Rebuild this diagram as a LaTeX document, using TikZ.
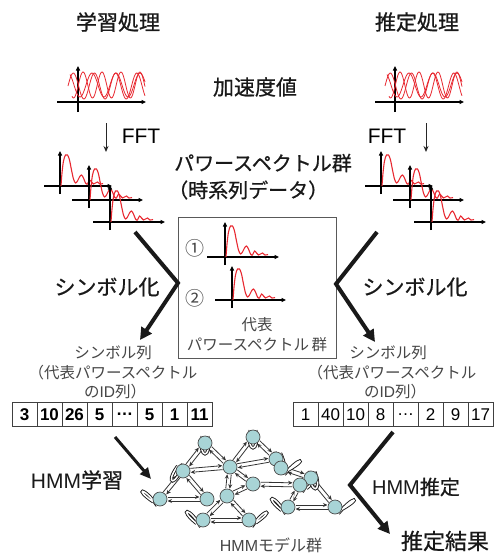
\documentclass[tikz,border=0pt]{standalone}
\usepackage{fontspec}
\setmainfont{Noto Sans CJK JP}
\newfontfamily\cjkheavy[FakeBold=0.7]{Noto Sans CJK JP}
\newfontfamily\lat{Liberation Sans}
\usetikzlibrary{arrows.meta,calc}
\pgfdeclarelayer{bg}
\pgfdeclarelayer{edges}
\pgfsetlayers{bg,edges,main}
\definecolor{wavered}{RGB}{232,40,48}
\definecolor{nodefill}{RGB}{168,212,214}
\definecolor{txtgray}{RGB}{70,70,70}
\newcommand\fs[1]{\fontsize{#1}{#1}\selectfont}
\newcommand\hmmedge[2]{%
  \draw[darr] ($(#1)!2pt!90:(#2)$) -- ($(#2)!2pt!-90:(#1)$);
  \draw[darr] ($(#2)!2pt!90:(#1)$) -- ($(#1)!2pt!-90:(#2)$);}
\newcommand\hmmloop[2]{%
  \pgfmathsetmacro\hlA{#2-22}\pgfmathsetmacro\hlB{#2+22}%
  \pgfmathsetmacro\hlC{#2-11}\pgfmathsetmacro\hlD{#2+11}%
  \draw[loopst] (#1.\hlA) .. controls +(\hlC:24) and +(\hlD:24) .. (#1.\hlB);}
\tikzset{
  axis/.style={black, line width=1.1pt, -{Triangle[length=4.5pt,width=4pt]}},
  wave/.style={wavered, line width=0.8pt},
  spec/.pic={\draw[wavered, line width=1.1pt] plot[smooth, tension=0.55] coordinates {(0,0) (1,-13) (2.5,-25) (4.5,-31) (6.5,-31) (8.5,-26) (10.5,-16) (12.5,-7) (14.5,-3) (16.5,-5) (18.5,-9) (20.5,-11) (22.5,-8) (24.5,-3) (26.5,-2) (28.5,-6) (30.5,-4) (32.5,-2) (34.5,-3) (36.5,-4) (39,-2) (42,-2.5)};},
  bigarrow/.style={black!90, line width=4pt, line join=miter, -{Triangle[length=12pt,width=12pt]}},
  fftarrow/.style={black!85, line width=1pt, -{Stealth[length=6pt,width=5pt]}},
  cell/.style={draw=black!75, line width=0.8pt, minimum width=25pt, minimum height=24pt, inner sep=0pt, font=\lat\fs{17}},
  hmm/.style={circle, minimum size=14pt, inner sep=0pt, fill=nodefill, draw=black!70, line width=0.7pt},
  darr/.style={draw=black!80, line width=0.8pt, -{Stealth[length=4.5pt,width=4pt]}, shorten <=7.5pt, shorten >=7.5pt},
  loopst/.style={draw=black!90, line width=0.9pt, double=white, double distance=1.5pt},
  big/.style={font=\cjkheavy\fs{21}, text=black!90, inner sep=0pt},
  small/.style={font=\fs{15.5}, text=txtgray, inner sep=0pt}
}
\begin{document}
\begin{tikzpicture}[x=1pt,y=-1pt]
\useasboundingbox (0,0) rectangle (496,554);
\begin{pgfonlayer}{bg}
\fill[white] (0,0) rectangle (496,554);
\end{pgfonlayer}

% titles
\node[big] (tl) at (118,22) {学習処理};
\node[big] (tr) at (417,22) {推定処理};
\node[big] (acc) at (255,87) {加速度値};

% acceleration charts
\draw[axis] (78,112) -- (78,66);
\draw[axis] (57,102) -- (146,102);
\draw[wave] plot[domain=68:145, samples=90, smooth] (\x, {86-13*sin(17*(\x-68))});
\draw[wave] plot[domain=70:145, samples=90, smooth] (\x, {85-12*sin(15*(\x-70)+120)});
\draw[wave] plot[domain=72:145, samples=90, smooth] (\x, {85-13*sin(19*(\x-72)+240)});
\draw[axis] (395,112) -- (395,66);
\draw[axis] (375,102) -- (464,102);
\draw[wave] plot[domain=385:462, samples=90, smooth] (\x, {86-13*sin(17*(\x-385))});
\draw[wave] plot[domain=387:462, samples=90, smooth] (\x, {85-12*sin(15*(\x-387)+120)});
\draw[wave] plot[domain=389:462, samples=90, smooth] (\x, {85-13*sin(19*(\x-389)+240)});

% FFT arrows
\coordinate (fl1) at (106,123); \coordinate (fl2) at (106,152);
\draw[fftarrow] (fl1) -- (fl2);
\node[font=\lat\fs{21}, inner sep=0pt] (fftl) at (141,136) {FFT};
\coordinate (fr1) at (426,123); \coordinate (fr2) at (426,152);
\draw[fftarrow] (fr1) -- (fr2);
\node[font=\lat\fs{21}, inner sep=0pt] (fftr) at (387,136) {FFT};

% power spectrum label
\node[big, font=\cjkheavy\fs{20}, anchor=west] (ps1) at (174,163) {パワースペクトル群};
\node[big, font=\cjkheavy\fs{20}, anchor=west] (ps2) at (168,190) {（時系列データ）};

% left stacked spectra
\draw[axis] (60,194) -- (60,151);
\draw[axis] (44,186) -- (112,186);
\pic at (61,186) {spec};
\draw[axis] (89,208) -- (89,165);
\draw[axis] (72,200) -- (143,200);
\pic at (90,200) {spec};
\draw[axis] (110,230) -- (110,185);
\draw[axis] (93,222) -- (165,222);
\pic at (111,222) {spec};
% right stacked spectra
\draw[axis] (381,194) -- (381,151);
\draw[axis] (365,186) -- (433,186);
\pic at (382,186) {spec};
\draw[axis] (410,208) -- (410,165);
\draw[axis] (393,200) -- (464,200);
\pic at (411,200) {spec};
\draw[axis] (431,230) -- (431,185);
\draw[axis] (414,222) -- (486,222);
\pic at (432,222) {spec};

% center box
\node[draw=black!65, line width=0.8pt, minimum width=158pt, minimum height=141pt, inner sep=0pt] (box) at (257,287.5) {};
\node[small, font=\fs{19}] (c1) at (195,248) {①};
\draw[axis] (225,265) -- (225,222);
\draw[axis] (207,257) -- (279,257);
\pic at (226,257) {spec};
\node[small, font=\fs{19}] (c2) at (195,298) {②};
\draw[axis] (232,308) -- (232,266);
\draw[axis] (215,300) -- (286,300);
\pic at (233,300) {spec};
\node[small] (rep1) at (257,325) {代表};
\node[small] (rep2) at (257,345) {パワースペクトル\,群};

% symbolization arrows
\coordinate (ls1) at (135,232); \coordinate (ls2) at (178,283); \coordinate (ls3) at (140,340);
\draw[bigarrow] (ls1) -- (ls2) -- (ls3);
\coordinate (rs1) at (377,232); \coordinate (rs2) at (336,284); \coordinate (rs3) at (375,342);
\draw[bigarrow] (rs1) -- (rs2) -- (rs3);
\node[big] (syl) at (107,287) {シンボル化};
\node[big] (syr) at (415,287) {シンボル化};

% symbol sequence labels
\node[small] (sl1) at (113,353) {シンボル列};
\node[small] (sl2) at (113,373) {（代表パワースペクトル};
\node[small] (sl3) at (115,392) {の{\lat ID}列）};
\node[small] (sr1) at (388,353) {シンボル列};
\node[small] (sr2) at (392,373) {（代表パワースペクトル};
\node[small] (sr3) at (395,392) {の{\lat ID}列）};

% tables
\foreach \v [count=\i] in {3,10,26,5,…,5,1,11}
  \node[cell, font=\lat\bfseries\fs{17}] (lt\i) at ({-0.5+25*\i},414.5) {\v};
\foreach \v [count=\i] in {1,40,10,8,…,2,9,17}
  \node[cell] (rt\i) at ({280.5+25*\i},414.5) {\v};

% HMM learning arrow
\coordinate (hl1) at (115,437); \coordinate (hl2) at (151,479);
\draw[bigarrow, line width=3pt, -{Triangle[length=11pt,width=10pt]}] (hl1) -- (hl2);
\node[big] (hmml) at (77,480) {{\lat HMM}学習};

% HMM estimation arrow
\coordinate (he1) at (393,432); \coordinate (he2) at (350,485); \coordinate (he3) at (390,534);
\draw[bigarrow] (he1) -- (he2) -- (he3);
\node[big, font=\cjkheavy\fs{20}] (hmme) at (416,487) {{\lat HMM}推定};
\node[big, font=\cjkheavy\fs{22}] (res) at (445,541) {推定結果};

% HMM model group
\node[hmm] (a1) at (205,443) {};
\node[hmm] (a2) at (183,471) {};
\node[hmm] (a3) at (230,467) {};
\node[hmm] (a4) at (160,499) {};
\node[hmm] (a5) at (207,499) {};
\node[hmm] (b1) at (253,437) {};
\node[hmm] (b2) at (276,459) {};
\node[hmm] (b3) at (281,468) {};
\node[hmm] (b4) at (253,484) {};
\node[hmm] (b6) at (227,496) {};
\node[hmm] (c1) at (311,478) {};
\node[hmm] (b5) at (300,485) {};
\node[hmm] (c2) at (288,507) {};
\node[hmm] (c3) at (335,507) {};
\node[hmm] (d1) at (203,520) {};
\node[hmm] (d2) at (249,520) {};
\begin{pgfonlayer}{edges}
\hmmedge{a1}{a2}
\hmmedge{a1}{a3}
\hmmedge{a2}{a3}
\hmmedge{a2}{a4}
\hmmedge{a2}{a5}
\hmmedge{a4}{a5}
\hmmedge{a3}{b6}
\hmmedge{b6}{d1}
\hmmedge{b6}{d2}
\hmmedge{d1}{d2}
\hmmedge{b1}{a3}
\hmmedge{b1}{b2}
\hmmedge{a3}{b2}
\hmmedge{a3}{b4}
\hmmedge{b4}{b5}
\hmmedge{b4}{b6}
\hmmedge{b3}{c1}
\hmmedge{c1}{c3}
\hmmedge{b5}{c2}
\hmmedge{c2}{c3}
\hmmloop{a1}{90}
\hmmloop{a2}{115}
\hmmloop{a4}{225}
\hmmloop{b1}{90}
\hmmloop{b2}{75}
\hmmloop{b3}{-40}
\hmmloop{b5}{-50}
\hmmloop{c1}{80}
\hmmloop{c2}{230}
\hmmloop{c3}{-40}
\hmmloop{d1}{230}
\hmmloop{d2}{-45}
\end{pgfonlayer}
\node[small, font=\fs{16}] (hmmg) at (271,545) {{\lat HMM}モデル群};
\end{tikzpicture}
\end{document}
